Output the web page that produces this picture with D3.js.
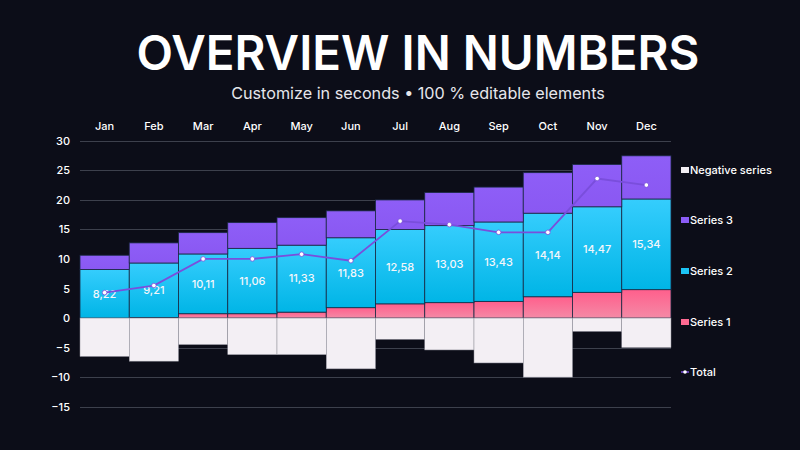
<!DOCTYPE html>
<html>
<head>
<meta charset="utf-8">
<script src="https://cdn.jsdelivr.net/npm/d3@7"></script>
<style>
  html, body { margin: 0; padding: 0; background: #0c0d18; }
  svg { display: block; font-family: Inter, "Noto Sans", sans-serif; }
</style>
</head>
<body>
<div id="chart"></div>
<script>
// chart data
var months = ["Jan", "Feb", "Mar", "Apr", "May", "Jun", "Jul", "Aug", "Sep", "Oct", "Nov", "Dec"];
var series1 = [0, 0.1, 0.73, 0.73, 1.0, 1.75, 2.4, 2.6, 2.82, 3.6, 4.35, 4.8];
var series2 = [8.22, 9.21, 10.11, 11.06, 11.33, 11.83, 12.58, 13.03, 13.43, 14.14, 14.47, 15.34];
var series3 = [2.4, 3.4, 3.6, 4.35, 4.65, 4.55, 5.0, 5.6, 5.9, 6.85, 7.15, 7.3];
var negative = [-6.5, -7.3, -4.5, -6.2, -6.2, -8.6, -3.6, -5.4, -7.6, -10.0, -2.26, -5.0];
var total = [4.3, 5.5, 10.0, 10.0, 10.8, 9.7, 16.4, 15.8, 14.5, 14.5, 23.6, 22.5];
var yTicks = [-15, -10, -5, 0, 5, 10, 15, 20, 25, 30];

var width = 800, height = 450;

var svg = d3.select("#chart")
    .append("svg")
    .attr("width", width)
    .attr("height", height);

svg.append("rect")
    .attr("width", width)
    .attr("height", height)
    .attr("fill", "#0c0d18");

// gradients for the stacked segments
var defs = svg.append("defs");
function grad(id, top, bottom) {
    var g = defs.append("linearGradient")
        .attr("id", id)
        .attr("x1", 0).attr("y1", 0).attr("x2", 0).attr("y2", 1);
    g.append("stop").attr("offset", "0%").attr("stop-color", top);
    g.append("stop").attr("offset", "100%").attr("stop-color", bottom);
}
grad("gS1", "#ff5f8c", "#f48aa6");
grad("gS2", "#35cdfd", "#00b5e6");
grad("gS3", "#8e5ef7", "#8a58f2");

// title
var title = svg.append("text")
    .attr("x", 418)
    .attr("y", 70)
    .attr("text-anchor", "middle")
    .attr("fill", "#ffffff")
    .attr("font-weight", 600)
    .attr("font-size", 50)
    .text("OVERVIEW IN NUMBERS");
// fit the title to the width it has in the picture
var tw = title.node().getComputedTextLength();
title.attr("font-size", 50 * 563 / tw);

var sub = svg.append("text")
    .attr("x", 418)
    .attr("y", 99)
    .attr("text-anchor", "middle")
    .attr("fill", "#e6e6ec")
    .attr("font-weight", 400)
    .attr("font-size", 17)
    .text("Customize in seconds \u2022 100 % editable elements");
var sw = sub.node().getComputedTextLength();
sub.attr("font-size", 17 * 374 / sw);

var x = d3.scaleBand()
    .domain(months)
    .range([80, 671])
    .padding(0);

var y = d3.scaleLinear()
    .domain([-15, 30])
    .range([406.7, 140.7]);

// grid
svg.append("g")
    .selectAll("line")
    .data(yTicks)
    .enter().append("line")
    .attr("x1", 80)
    .attr("x2", 671)
    .attr("y1", function(d) { return Math.round(y(d)) + 0.5; })
    .attr("y2", function(d) { return Math.round(y(d)) + 0.5; })
    .attr("stroke", "#3d404c")
    .attr("stroke-width", 1);

// y axis labels
var yAxis = svg.append("g")
    .attr("transform", "translate(70,0)")
    .call(d3.axisLeft(y).tickValues(yTicks).tickSize(0).tickPadding(0));
yAxis.select(".domain").remove();
yAxis.selectAll("text")
    .attr("fill", "#ffffff")
    .attr("font-size", 11)
    .attr("font-weight", 500)
    .attr("font-family", "Inter, sans-serif");

// month labels
var xAxis = svg.append("g")
    .attr("transform", "translate(0,126)")
    .call(d3.axisTop(x).tickSize(0).tickPadding(0));
xAxis.select(".domain").remove();
xAxis.selectAll("text")
    .attr("fill", "#ffffff")
    .attr("font-size", 11)
    .attr("font-weight", 500)
    .attr("dy", "0.35em")
    .attr("font-family", "Inter, sans-serif");

// stacked positive series
var rows = months.map(function(m, i) {
    return { month: m, s1: series1[i], s2: series2[i], s3: series3[i] };
});
var stack = d3.stack().keys(["s1", "s2", "s3"]);
var layers = stack(rows);
var fills = { s1: "url(#gS1)", s2: "url(#gS2)", s3: "url(#gS3)" };

svg.append("g")
    .selectAll("g")
    .data(layers)
    .enter().append("g")
    .attr("fill", function(d) { return fills[d.key]; })
    .selectAll("rect")
    .data(function(d) { return d; })
    .enter().append("rect")
    .attr("x", function(d) { return x(d.data.month); })
    .attr("width", x.bandwidth())
    .attr("y", function(d) { return y(d[1]); })
    .attr("height", function(d) { return Math.max(0, y(d[0]) - y(d[1])); })
    .attr("stroke", "#1b2a45")
    .attr("stroke-width", 0.8);

// negative series
svg.append("g")
    .selectAll("rect")
    .data(negative)
    .enter().append("rect")
    .attr("x", function(d, i) { return x(months[i]); })
    .attr("width", x.bandwidth())
    .attr("y", y(0))
    .attr("height", function(d) { return y(d) - y(0); })
    .attr("fill", "#f3eff4")
    .attr("stroke", "#8e8e99")
    .attr("stroke-width", 0.5);

// series 2 value labels
svg.append("g")
    .selectAll("text")
    .data(series2)
    .enter().append("text")
    .attr("x", function(d, i) { return x(months[i]) + x.bandwidth() / 2; })
    .attr("y", function(d, i) { return y(series1[i] + d / 2); })
    .attr("dy", "0.35em")
    .attr("text-anchor", "middle")
    .attr("fill", "#f4f6fa")
    .attr("font-size", 11)
    .attr("font-weight", 500)
    .text(function(d) { return d.toFixed(2).replace(".", ","); });

// total line
var line = d3.line()
    .x(function(d, i) { return x(months[i]) + x.bandwidth() / 2; })
    .y(function(d) { return y(d); });

svg.append("path")
    .datum(total)
    .attr("d", line)
    .attr("fill", "none")
    .attr("stroke", "#7a4edc")
    .attr("stroke-width", 1.8);

svg.append("g")
    .selectAll("circle")
    .data(total)
    .enter().append("circle")
    .attr("cx", function(d, i) { return x(months[i]) + x.bandwidth() / 2; })
    .attr("cy", function(d) { return y(d); })
    .attr("r", 2.3)
    .attr("fill", "#ffffff")
    .attr("stroke", "#7a4edc")
    .attr("stroke-width", 0.8);

// legend
var legendItems = [
    { name: "Negative series", color: "#f3eff4", y: 170 },
    { name: "Series 3", color: "#8b5cf6", y: 220 },
    { name: "Series 2", color: "#1cc4f5", y: 271 },
    { name: "Series 1", color: "#ff6a92", y: 322 },
    { name: "Total", color: null, y: 372 }
];

var legend = svg.selectAll(".legend")
    .data(legendItems)
    .enter().append("g")
    .attr("class", "legend")
    .attr("transform", function(d) { return "translate(681," + d.y + ")"; });

legend.filter(function(d) { return d.color; })
    .append("rect")
    .attr("x", 0)
    .attr("y", -3)
    .attr("width", 8)
    .attr("height", 6)
    .attr("fill", function(d) { return d.color; });

var tot = legend.filter(function(d) { return !d.color; });
tot.append("line")
    .attr("x1", 0).attr("x2", 8)
    .attr("y1", 0).attr("y2", 0)
    .attr("stroke", "#7a4edc")
    .attr("stroke-width", 1.5);
tot.append("circle")
    .attr("cx", 4).attr("cy", 0).attr("r", 1.8)
    .attr("fill", "#ffffff");

legend.append("text")
    .attr("x", 9)
    .attr("y", 0)
    .attr("dy", ".35em")
    .attr("fill", "#ffffff")
    .attr("font-size", 11)
    .attr("font-weight", 500)
    .style("text-anchor", "start")
    .text(function(d) { return d.name; });
</script>
</body>
</html>
